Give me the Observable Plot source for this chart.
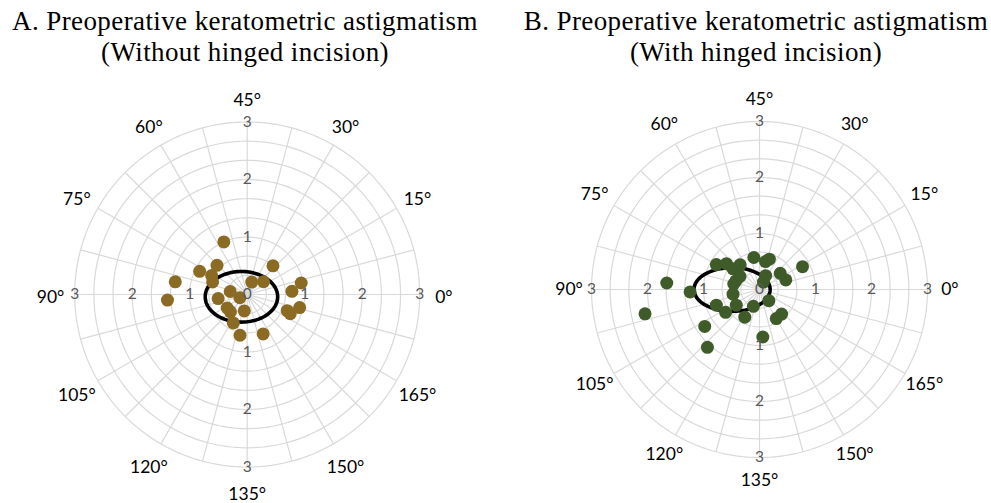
<!DOCTYPE html>
<html><head><meta charset="utf-8">
<script src="https://cdn.jsdelivr.net/npm/d3@7"></script>
<script src="https://cdn.jsdelivr.net/npm/@observablehq/plot@0.6"></script>
<style>
body{margin:0;background:#fff;width:991px;height:503px;overflow:hidden;position:relative;}
.title{position:absolute;top:6.1px;transform:translateX(-50%);font-family:"Liberation Serif","Times New Roman",serif;font-size:27px;letter-spacing:0.4px;line-height:31px;text-align:center;color:#000;white-space:nowrap;}
.panel{position:absolute;top:75px;}
</style></head><body>
<div class="title" style="left:245px">A. Preoperative keratometric astigmatism<br>(Without hinged incision)</div>
<div class="title" style="left:756px">B. Preoperative keratometric astigmatism<br>(With hinged incision)</div>
<div class="panel" id="pA" style="left:0"></div>
<div class="panel" id="pB" style="left:495px"></div>
<script>
// Panel A: without hinged incision — axis (deg) and magnitude (D)
const axisA = [57,68,77,76,80,85,92,35,19,24,6,2,173,169,168,85,94,102,107,113,130,122,130,146];
const magA  = [1.00,0.73,0.92,0.70,0.64,1.27,1.39,0.23,0.36,0.67,0.96,0.78,0.94,0.75,0.82,0.30,0.51,0.14,0.42,0.42,0.29,0.55,0.72,0.74];
// Panel B: with hinged incision
const axisB = [50,39,36,75,71,64,71,73,80,84,14,19,10,33,31,88,91,95,155,100,107,107,121,125,96,156,150,107,137,114];
const magB  = [0.58,0.51,0.57,0.89,0.75,0.56,0.60,0.42,0.45,0.47,0.87,0.47,0.50,0.27,0.15,1.66,1.24,0.48,0.26,0.82,0.73,0.50,0.56,0.32,2.09,0.59,0.60,1.18,0.85,1.39];
// Centroid (double-angle x, y) and ellipse semi-axes
const centroidA = [-0.10, -0.04], radiiA = [0.63, 0.44];
const centroidB = [-0.49, 0.00], radiiB = [0.68, 0.39];
// Tick labels
const angleTicks = [0,15,30,45,60,75,90,105,120,135,150,165];
const radialTicks = [1,2,3];
const ringStep = 1/3, maxR = 3;

const rad = d => d * Math.PI / 180;

function panel(axes, mags, color, cen, radii, cx, cy, R, w, h, labelR, labelDy) {
  const pts = axes.map((a, i) => ({axis: a, mag: mags[i]}));
  const rings = [];
  for (let k = 1; k * ringStep <= maxR + 1e-9; k++) {
    const r = k * ringStep;
    for (let t = 0; t <= 360; t += 2) rings.push({r, t});
  }
  const spokes = d3.range(0, 360, 15);
  const ell = d3.range(0, 361, 3).map(t => ({t}));
  const dirs = [0, 90, 180, 270];
  const rlabels = dirs.flatMap(d => radialTicks.map(v => ({d, v})));
  const font = "Lato, 'Open Sans', sans-serif";
  return Plot.plot({
    width: w, height: h,
    margin: 0,
    x: {domain: [-maxR, maxR], range: [cx - R, cx + R], axis: null},
    y: {domain: [-maxR, maxR], range: [cy + R, cy - R], axis: null},
    style: {background: "#fff"},
    marks: [
      Plot.line(rings, {x: d => d.r * Math.cos(rad(d.t)), y: d => d.r * Math.sin(rad(d.t)), z: "r", stroke: "#d9d9d9", strokeWidth: 1.2}),
      Plot.link(spokes, {x1: 0, y1: 0, x2: d => maxR * Math.cos(rad(d)), y2: d => maxR * Math.sin(rad(d)), stroke: "#d9d9d9", strokeWidth: 1.2}),
      Plot.line(ell, {x: d => cen[0] + radii[0] * Math.cos(rad(d.t)), y: d => cen[1] + radii[1] * Math.sin(rad(d.t)), stroke: "#000", strokeWidth: 3.6, curve: "linear"}),
      Plot.dot(pts, {x: d => d.mag * Math.cos(rad(2 * d.axis)), y: d => d.mag * Math.sin(rad(2 * d.axis)), r: 6.5, fill: color, stroke: "none"}),
      Plot.text(rlabels, {x: d => d.v * Math.cos(rad(d.d)), y: d => d.v * Math.sin(rad(d.d)), text: d => String(d.v), fill: "#595959", fontSize: 15.5, fontFamily: font}),
      Plot.text([0], {x: 0, y: 0, text: d => String(d), fill: "#595959", fontSize: 15.5, fontFamily: font}),
      Plot.text(angleTicks, {x: d => labelR * Math.cos(rad(2 * d)), y: d => labelR * Math.sin(rad(2 * d)), dy: labelDy, text: d => `${d}°`, fill: "#000", fontSize: 17.5, fontFamily: font})
    ]
  });
}

document.getElementById("pA").append(panel(axisA, magA, "#8b6b23", centroidA, radiiA, 246.7, 219, 172.5, 495, 428, 3.42, 3));
document.getElementById("pB").append(panel(axisB, magB, "#3f5b2a", centroidB, radiiB, 264, 214, 168, 496, 428, 3.40, 0));
</script>
</body></html>
